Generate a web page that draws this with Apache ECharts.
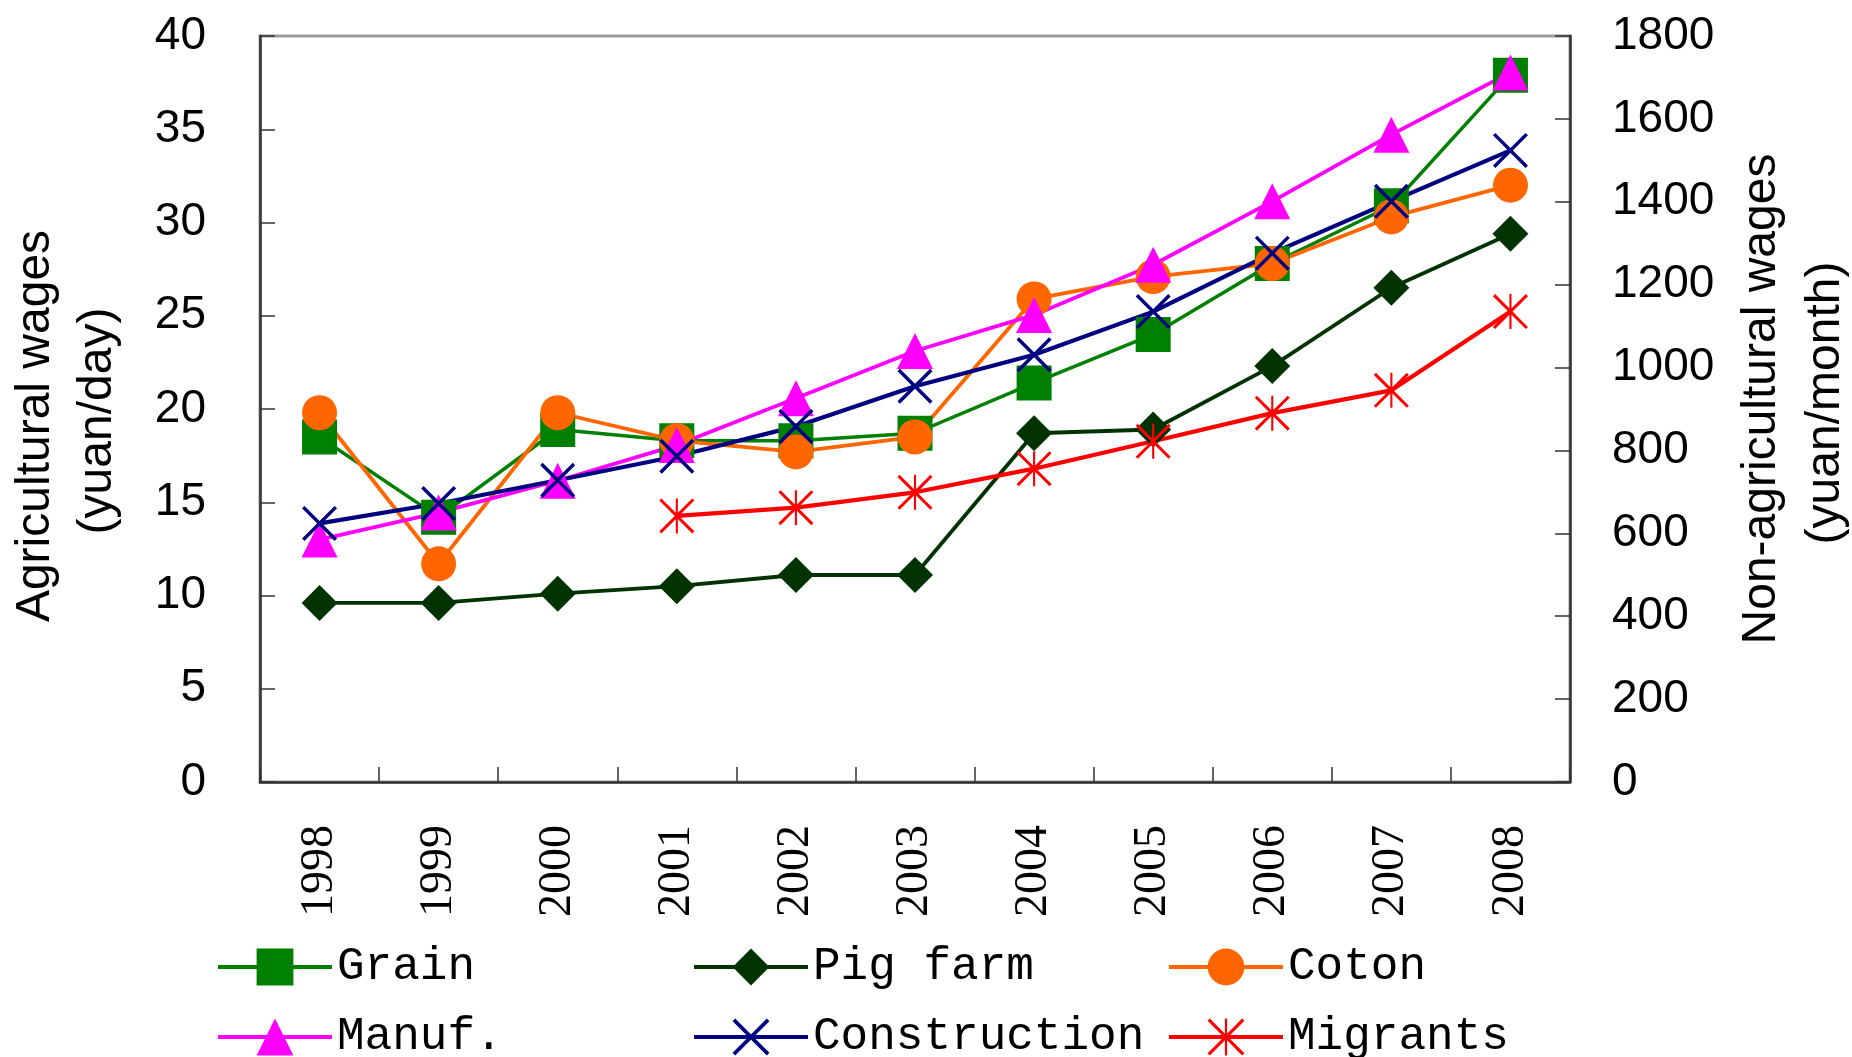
<!DOCTYPE html>
<html>
<head>
<meta charset="utf-8">
<title>Agricultural and non-agricultural wages, 1998-2008</title>
<script src="https://cdn.jsdelivr.net/npm/echarts@6/dist/echarts.min.js"></script>
<style>
  html, body { margin: 0; padding: 0; background: #ffffff; }
  #chart { width: 1852px; height: 1057px; }
</style>
</head>
<body>
<div id="chart"></div>
<script>
// Years on the category axis
var years = ['1998', '1999', '2000', '2001', '2002', '2003', '2004', '2005', '2006', '2007', '2008'];

// Agricultural wages, yuan/day (left axis)
var grain = [18.5, 14.2, 18.9, 18.3, 18.3, 18.7, 21.4, 24.0, 27.8, 30.9, 37.9];
var pigFarm = [9.6, 9.6, 10.1, 10.5, 11.1, 11.1, 18.7, 18.9, 22.3, 26.5, 29.4];
var coton = [19.8, 11.7, 19.8, 18.3, 17.7, 18.5, 25.9, 27.1, 27.8, 30.3, 32.0];

// Non-agricultural wages, yuan/month (right axis)
var manuf = [585, 650, 727, 813, 926, 1040, 1127, 1248, 1401, 1562, 1712];
var construction = [624, 672, 728, 786, 858, 955, 1031, 1135, 1276, 1401, 1524];
var migrants = [null, null, null, 642, 662, 699, 756, 822, 890, 945, 1135];

// Axis ranges
var leftAxis = { min: 0, max: 40, interval: 5 };
var rightAxis = { min: 0, max: 1800, interval: 200 };

// Marker shapes drawn as filled outlines
var crossPath = 'path://M0,7L7,0L100,93L93,100ZM93,0L100,7L7,100L0,93Z';
var starPath = 'path://M0,6L6,0L100,94L94,100ZM94,0L100,6L6,100L0,94ZM47,0L53,0L53,100L47,100Z';

var sansFont = '"Liberation Sans", Arial, sans-serif';
var serifFont = '"Liberation Serif", "Times New Roman", serif';
var monoFont = '"Liberation Mono", "Courier New", monospace';

function lineSeries(name, data, color, symbol, size, width, axisIndex) {
  return {
    name: name,
    type: 'line',
    yAxisIndex: axisIndex,
    data: data,
    symbol: symbol,
    symbolSize: size,
    showSymbol: true,
    showAllSymbol: true,
    connectNulls: false,
    animation: false,
    lineStyle: { color: color, width: width },
    itemStyle: { color: color, opacity: 1 },
    emphasis: { disabled: true }
  };
}

// One legend column holding two entries stacked vertically
function legendColumn(left, names) {
  return {
    orient: 'vertical',
    left: left,
    top: 944,
    height: 150,
    padding: 0,
    itemWidth: 114,
    itemHeight: 46,
    itemGap: 24,
    selectedMode: false,
    lineStyle: { width: 4 },
    data: names.map(function (n) { return { name: n, lineStyle: { width: 4 } }; }),
    textStyle: { fontFamily: monoFont, fontSize: 46, color: '#000000' }
  };
}

function axisLineStyle() { return { color: '#333333', width: 2.5 }; }
function tickStyle() { return { color: '#333333', width: 1.5 }; }

var option = {
  backgroundColor: '#ffffff',
  animation: false,
  grid: {
    left: 260, right: 282, top: 36, bottom: 275,
    containLabel: false,
    show: true,
    borderColor: '#9a9a9a',
    borderWidth: 3,
    backgroundColor: 'transparent'
  },
  legend: [
    legendColumn(216, ['Grain', 'Manuf.']),
    legendColumn(692, ['Pig farm', 'Construction']),
    legendColumn(1167, ['Coton', 'Migrants'])
  ],
  xAxis: {
    type: 'category',
    data: years,
    boundaryGap: true,
    axisLine: { show: true, lineStyle: axisLineStyle() },
    axisTick: { show: true, inside: true, length: 15, lineStyle: tickStyle() },
    axisLabel: {
      interval: 0,
      rotate: 90,
      margin: 43,
      fontFamily: serifFont,
      fontSize: 46,
      color: '#000000'
    },
    splitLine: { show: false }
  },
  yAxis: [
    {
      type: 'value',
      position: 'left',
      min: leftAxis.min, max: leftAxis.max, interval: leftAxis.interval,
      axisLine: { show: true, lineStyle: axisLineStyle() },
      axisTick: { show: true, inside: true, length: 15, lineStyle: tickStyle() },
      axisLabel: { margin: 54, fontFamily: sansFont, fontSize: 46, color: '#000000',
        formatter: function (v) { return String(v); } },
      splitLine: { show: false }
    },
    {
      type: 'value',
      position: 'right',
      min: rightAxis.min, max: rightAxis.max, interval: rightAxis.interval,
      axisLine: { show: true, lineStyle: axisLineStyle() },
      axisTick: { show: true, inside: true, length: 15, lineStyle: tickStyle() },
      axisLabel: { margin: 42, fontFamily: sansFont, fontSize: 46, color: '#000000',
        formatter: function (v) { return String(v); } },
      splitLine: { show: false }
    }
  ],
  graphic: [
    { type: 'text', x: 36, y: 426, rotation: Math.PI / 2, silent: true,
      style: { text: 'Agricultural wages', fontFamily: sansFont, fontSize: 48, fill: '#000000', align: 'center', verticalAlign: 'middle' } },
    { type: 'text', x: 98, y: 421, rotation: Math.PI / 2, silent: true,
      style: { text: '(yuan/day)', fontFamily: sansFont, fontSize: 48, fill: '#000000', align: 'center', verticalAlign: 'middle' } },
    { type: 'text', x: 1762, y: 399, rotation: Math.PI / 2, silent: true,
      style: { text: 'Non-agricultural wages', fontFamily: sansFont, fontSize: 48, fill: '#000000', align: 'center', verticalAlign: 'middle' } },
    { type: 'text', x: 1826, y: 403, rotation: Math.PI / 2, silent: true,
      style: { text: '(yuan/month)', fontFamily: sansFont, fontSize: 48, fill: '#000000', align: 'center', verticalAlign: 'middle' } }
  ],
  series: [
    lineSeries('Grain', grain, '#008000', 'rect', 35, 3.5, 0),
    lineSeries('Pig farm', pigFarm, '#003300', 'diamond', 36, 3.8, 0),
    lineSeries('Coton', coton, '#FF6600', 'circle', 35, 3.8, 0),
    lineSeries('Manuf.', manuf, '#FF00FF', 'triangle', 36, 3.8, 1),
    lineSeries('Construction', construction, '#000080', crossPath, 35, 4.2, 1),
    lineSeries('Migrants', migrants, '#FF0000', starPath, 35, 4.2, 1)
  ]
};

var chart = echarts.init(document.getElementById('chart'), null, { renderer: 'canvas' });
chart.setOption(option);
</script>
</body>
</html>
